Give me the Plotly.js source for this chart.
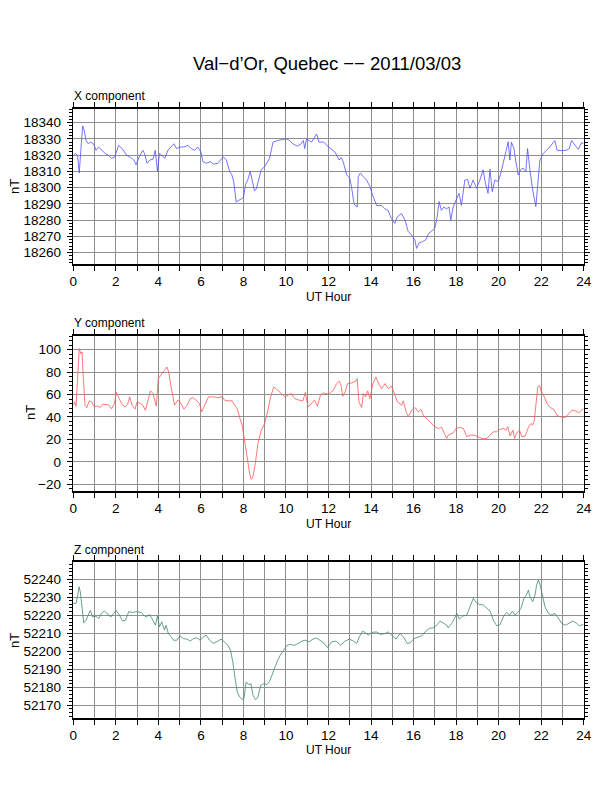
<!DOCTYPE html>
<html>
<head>
<meta charset="utf-8">
<script src="https://cdn.plot.ly/plotly-3.0.1.min.js"></script>
<style>body{margin:0;background:#fff}</style>
</head>
<body>
<div id="plot" style="width:612px;height:792px"></div>
<script>
// X component (nT) vs UT hour
var xHour = [0,0.1,0.2,0.28,0.35,0.44,0.5,0.6,0.7,0.8,
  0.95,1.07,1.19,1.35,1.5,1.65,1.8,1.95,2.13,2.3,
  2.5,2.7,2.85,2.95,3.1,3.27,3.35,3.47,3.6,3.75,
  3.85,3.96,4.05,4.15,4.3,4.45,4.6,4.73,4.85,5,
  5.2,5.38,5.55,5.7,5.85,6,6.09,6.25,6.45,6.6,
  6.8,7.05,7.2,7.35,7.45,7.54,7.66,7.75,7.9,8,
  8.1,8.21,8.32,8.42,8.52,8.6,8.76,8.84,9,9.15,
  9.23,9.39,9.62,10,10.17,10.33,10.53,10.72,10.82,10.88,
  10.97,11.2,11.44,11.55,11.78,12,12.14,12.3,12.5,12.6,
  12.69,12.85,13,13.08,13.2,13.35,13.4,13.5,13.63,13.79,
  13.95,14.07,14.26,14.5,14.65,14.8,14.96,15.12,15.23,15.43,
  15.6,15.75,15.9,16.06,16.14,16.26,16.42,16.58,16.69,16.84,
  17,17.11,17.2,17.31,17.42,17.55,17.67,17.75,17.86,18.02,
  18.14,18.25,18.41,18.54,18.65,18.8,18.96,19.12,19.27,19.38,
  19.5,19.59,19.7,19.82,19.98,20.1,20.25,20.34,20.45,20.53,
  20.6,20.72,20.8,20.92,21.03,21.15,21.28,21.36,21.47,21.6,
  21.75,21.83,21.94,22.1,22.25,22.4,22.64,22.75,22.96,23.19,
  23.32,23.43,23.6,23.75,23.9,24];
var xNT = [18320,18321,18320,18309,18322,18338,18336,18329,18327,18328,
  18327,18323,18325,18323,18321,18320,18318,18319,18326,18324,
  18320,18318.5,18317,18314,18319,18323,18321,18315,18317,18317.5,
  18323,18310,18321,18320,18318,18323,18325,18327,18324,18325,
  18325,18326,18324,18323,18325,18322,18316,18315,18316,18314.5,
  18315,18319,18317,18310,18308,18304,18291,18292,18293,18294,
  18302,18305,18310,18304,18298,18299,18308,18311,18313,18316,
  18318,18328,18329,18330,18329,18327,18325.5,18327,18329,18324,
  18330,18328,18333,18328,18328,18325,18323.6,18322,18317,18318.5,
  18316,18308,18305.7,18300.6,18290,18288,18306.8,18309,18306.8,18304.7,
  18300.6,18295.5,18289,18289,18287,18286,18281,18278,18282,18284,
  18280,18273,18271,18268,18262.6,18266,18266.8,18268,18271.5,18273,
  18275,18282,18291.4,18286,18288,18287,18288,18280,18288,18293,
  18296.5,18289,18304.7,18305,18299.6,18304.7,18299.6,18304.7,18311,18302.7,
  18296.5,18311.3,18297.5,18304.7,18303.7,18308.8,18316,18322,18328.3,18317,
  18328,18324,18317,18307.8,18311,18312,18310,18324,18311,18298.6,
  18288.3,18300.6,18317,18321,18322.8,18325,18329,18323,18322.8,18323,
  18324,18329,18326,18323.6,18327.7,18327];

// Y component (nT)
var yHour = [0,0.06,0.13,0.2,0.28,0.35,0.41,0.47,0.55,0.63,
  0.75,0.86,0.96,1.15,1.26,1.38,1.54,1.66,1.8,1.93,
  2.03,2.13,2.28,2.43,2.56,2.65,2.76,2.9,3,3.16,
  3.27,3.39,3.5,3.63,3.75,3.9,4,4.13,4.29,4.4,
  4.49,4.6,4.76,4.91,5.02,5.2,5.35,5.5,5.62,5.78,
  5.93,6.04,6.2,6.36,6.56,6.8,6.99,7.11,7.27,7.47,
  7.58,7.71,7.82,7.94,8.05,8.18,8.29,8.37,8.45,8.56,
  8.68,8.84,9,9.15,9.28,9.43,9.59,9.75,9.94,10.13,
  10.25,10.41,10.61,10.8,10.91,11.04,11.19,11.35,11.48,11.62,
  11.76,12,12.23,12.38,12.51,12.59,12.67,12.78,12.9,13.09,
  13.29,13.35,13.43,13.56,13.64,13.75,13.84,13.95,14.08,14.23,
  14.38,14.5,14.66,14.81,14.97,15.08,15.24,15.44,15.52,15.65,
  15.75,15.91,16.07,16.22,16.35,16.46,16.58,16.77,17,17.16,
  17.32,17.43,17.56,17.63,17.74,17.87,18,18.15,18.34,18.5,
  18.68,18.89,19.09,19.28,19.44,19.59,19.75,19.9,20.06,20.22,
  20.35,20.43,20.54,20.67,20.75,20.86,20.98,21.09,21.25,21.41,
  21.52,21.6,21.68,21.76,21.84,21.92,22.01,22.15,22.27,22.43,
  22.58,22.74,22.9,23.14,23.29,23.45,23.61,23.77,23.98];
var yNT = [50.5,53.5,49.6,72.7,101,96.5,98,75.7,50.5,48.4,
  54.4,53.5,49.6,49.6,48.4,51.4,51.4,50.8,47.3,52,
  61.8,58,51.4,49,51.4,58,50.5,47,53.5,52,
  50.5,46,53.5,63.3,61,49.6,74.2,77.2,81.6,84.6,
  80,66.8,50.5,55,53.5,47,50.5,56.4,57.3,55,
  52,44.6,52,58,58,57.3,58,55,54.4,54.4,
  50.5,47.6,39.6,32.7,19.4,1.6,-10.2,-15.6,-13.2,-1.3,
  16.4,28.3,34.2,46,58,66.8,64.4,61.5,58,59.4,
  61,56.4,55,54.4,62,49,52,55,49.6,59.4,
  61.5,60.3,63.9,69.8,71.9,68.3,58.5,62.4,69.8,70.4,
  72.1,74.2,53.5,48.4,60.9,57.9,63.3,56.4,69.2,75.7,
  69.2,65.3,69.8,65.3,67.4,62.4,53.5,50.5,54.4,44.6,
  40.1,46.1,48.4,44.6,46.7,41.6,39.6,35.7,31.3,29.8,
  30.7,26.8,20.9,23.9,24.7,25.9,29.8,30.7,29.8,22.4,
  23.9,23.6,21.8,20.6,20.9,23.9,26.8,26.8,28.9,29.8,
  28.3,31.3,23,28.3,20.9,25.9,28.3,22.4,23,31.3,
  34.2,32.7,37.2,52,66.8,68.3,62.4,57.9,52,48.4,
  46.9,41.6,40.1,39.6,42.5,46.1,45.5,43.7,47.6];

// Z component (nT)
var zHour = [0,0.13,0.2,0.27,0.33,0.41,0.49,0.6,0.72,0.8,
  0.91,1.07,1.19,1.33,1.46,1.62,1.77,1.9,2.01,2.17,
  2.32,2.45,2.61,2.79,2.98,3.19,3.34,3.45,3.58,3.7,
  3.86,3.96,4.05,4.16,4.29,4.36,4.47,4.6,4.71,4.87,
  5.02,5.18,5.34,5.49,5.65,5.81,5.97,6.12,6.25,6.41,
  6.59,6.8,6.95,7.06,7.27,7.39,7.5,7.61,7.71,7.82,
  7.94,8.02,8.13,8.24,8.35,8.45,8.57,8.68,8.81,8.95,
  9.1,9.23,9.39,9.58,9.73,9.89,10.05,10.2,10.41,10.57,
  10.75,10.91,11.08,11.27,11.43,11.59,11.76,11.95,12.15,12.35,
  12.57,12.78,12.98,13.17,13.33,13.45,13.61,13.72,13.87,14.03,
  14.26,14.45,14.66,14.81,14.97,15.17,15.36,15.52,15.71,15.86,
  16.02,16.22,16.38,16.54,16.74,16.93,17.06,17.25,17.4,17.56,
  17.63,17.79,17.92,18.03,18.15,18.31,18.5,18.65,18.81,18.94,
  19.09,19.28,19.44,19.6,19.75,19.91,20.07,20.22,20.38,20.51,
  20.65,20.77,20.9,21.05,21.19,21.32,21.4,21.47,21.6,21.71,
  21.79,21.87,21.95,22.06,22.18,22.34,22.5,22.65,22.81,22.97,
  23.15,23.32,23.48,23.64,23.8,23.99];
var zNT = [52226.5,52226.5,52230.2,52235.7,52233,52221.9,52215.7,52217.2,52221,52222.6,
  52219,52219.4,52218.1,52221,52222.2,52220.4,52219,52221,52222.6,52220,
  52216.7,52217.2,52221.9,52221.5,52221.9,52221.5,52219.6,52219,52220.4,52218.1,
  52214.4,52219.6,52213.5,52216.3,52211.7,52214.4,52209.8,52208,52206.1,52206.1,
  52208.5,52207,52206.7,52205.6,52207,52207.4,52206.1,52208,52208.9,52206.1,
  52204.3,52205.6,52206.7,52205.6,52203.3,52200.6,52194.1,52184.8,52177.4,52174.6,
  52173.3,52173.7,52183,52181.5,52182,52175.6,52173.1,52174.6,52181.1,52182,
  52181.5,52183.3,52188.5,52194.1,52197.8,52200.6,52203.3,52203.7,52203.3,52204.3,
  52205.6,52206.1,52205.2,52206.7,52207.4,52206.1,52204.8,52202,52205.2,52205.6,
  52203.3,52205.6,52206.7,52205.6,52204.3,52208,52211.1,52210.4,52208.9,52210.4,
  52210.7,52209.3,52209.8,52210.7,52208.9,52206.7,52209.8,52208,52204.3,52204.8,
  52207,52208,52208.5,52210.7,52212.6,52213,52214.1,52216.7,52215.4,52214.4,
  52213,52215.4,52218.1,52220.9,52217.8,52219.4,52220,52224.6,52229.3,52227,
  52225.9,52225.6,52223.7,52222.2,52217.2,52214.1,52214.8,52219,52221.5,52220,
  52222.2,52220,52221.5,52223.7,52229.3,52231.5,52233.9,52230.2,52227.4,52231.1,
  52237,52239.4,52236.7,52231.1,52224.6,52221,52220,52221,52217.8,52215.4,
  52214.4,52215.4,52216.7,52215.7,52214.1,52214.8];

var W = 612, H = 792;
function px(x) { return x / W; }
function py(y) { return 1 - y / H; }

var font = "Liberation Sans, Arial, Helvetica, sans-serif";
var gridCol = "#8f8f8f";

function xAxis(anchor) {
  return {
    anchor: anchor,
    domain: [px(73.3), px(583.7)],
    range: [0, 24], tick0: 0, dtick: 2,
    ticks: "outside", ticklen: 5, tickwidth: 1, tickcolor: "#000",
    minor: {dtick: 1, ticks: "outside", ticklen: 5, tickcolor: "#000",
            showgrid: true, gridcolor: gridCol, gridwidth: 1},
    showgrid: true, gridcolor: gridCol, gridwidth: 1,
    showline: true, linecolor: "#000", linewidth: 1.6, mirror: "ticks",
    zeroline: false, fixedrange: true,
    tickformat: "d", ticklabelstandoff: -1,
    tickfont: {family: font, size: 13.5, color: "#000"}
  };
}
function yAxis(anchor, top, bottom, range, dtick, minorTick) {
  return {
    anchor: anchor,
    domain: [py(bottom), py(top)],
    range: range, dtick: dtick,
    ticks: "outside", ticklen: 5, tickwidth: 1, tickcolor: "#000",
    minor: {dtick: minorTick, ticks: "outside", ticklen: 3, tickcolor: "#000", showgrid: false},
    showgrid: true, gridcolor: gridCol, gridwidth: 1,
    showline: true, linecolor: "#000", linewidth: 1.6, mirror: "ticks",
    zeroline: false, fixedrange: true,
    tickformat: "d", separatethousands: false, ticklabelstandoff: 3,
    tickfont: {family: font, size: 13.5, color: "#000"}
  };
}

var traces = [
  {x: xHour, y: xNT, xaxis: "x", yaxis: "y", type: "scatter", mode: "lines",
   line: {color: "rgb(80,80,255)", width: 0.8}},
  {x: yHour, y: yNT, xaxis: "x2", yaxis: "y2", type: "scatter", mode: "lines",
   line: {color: "rgb(255,85,85)", width: 0.8}},
  {x: zHour, y: zNT, xaxis: "x3", yaxis: "y3", type: "scatter", mode: "lines",
   line: {color: "rgb(60,140,100)", width: 0.8}}
];

function label(text, x, y, size, opts) {
  var a = {text: text, x: px(x), y: py(y), xref: "paper", yref: "paper",
           showarrow: false, font: {family: font, size: size, color: "#000"},
           xanchor: "center", yanchor: "middle"};
  for (var k in opts) a[k] = opts[k];
  return a;
}

var layout = {
  width: W, height: H,
  margin: {l: 0, r: 0, t: 0, b: 0},
  paper_bgcolor: "#fff", plot_bgcolor: "#fff",
  showlegend: false,
  xaxis: xAxis("y"),
  yaxis: yAxis("x", 109, 264, [18253, 18348.4], 10, 2),
  xaxis2: xAxis("y2"),
  yaxis2: yAxis("x2", 335.7, 491, [-26, 112.5], 20, 4),
  xaxis3: xAxis("y3"),
  yaxis3: yAxis("x3", 561.7, 718, [52163, 52249.6], 10, 2),
  annotations: [
    label("Val−d’Or, Quebec −− 2011/03/03", 327, 64, 18.5),
    label("X component", 72, 96, 12, {xanchor: "left"}),
    label("Y component", 72, 323, 12, {xanchor: "left"}),
    label("Z component", 72, 550, 12, {xanchor: "left"}),
    label("UT Hour", 328.5, 297, 12),
    label("UT Hour", 328.5, 524, 12),
    label("UT Hour", 328.5, 750, 12),
    label("nT", 14, 186, 13, {textangle: -90}),
    label("nT", 30, 413, 13, {textangle: -90}),
    label("nT", 14, 640, 13, {textangle: -90})
  ]
};

Plotly.newPlot("plot", traces, layout, {staticPlot: true});
</script>
</body>
</html>
